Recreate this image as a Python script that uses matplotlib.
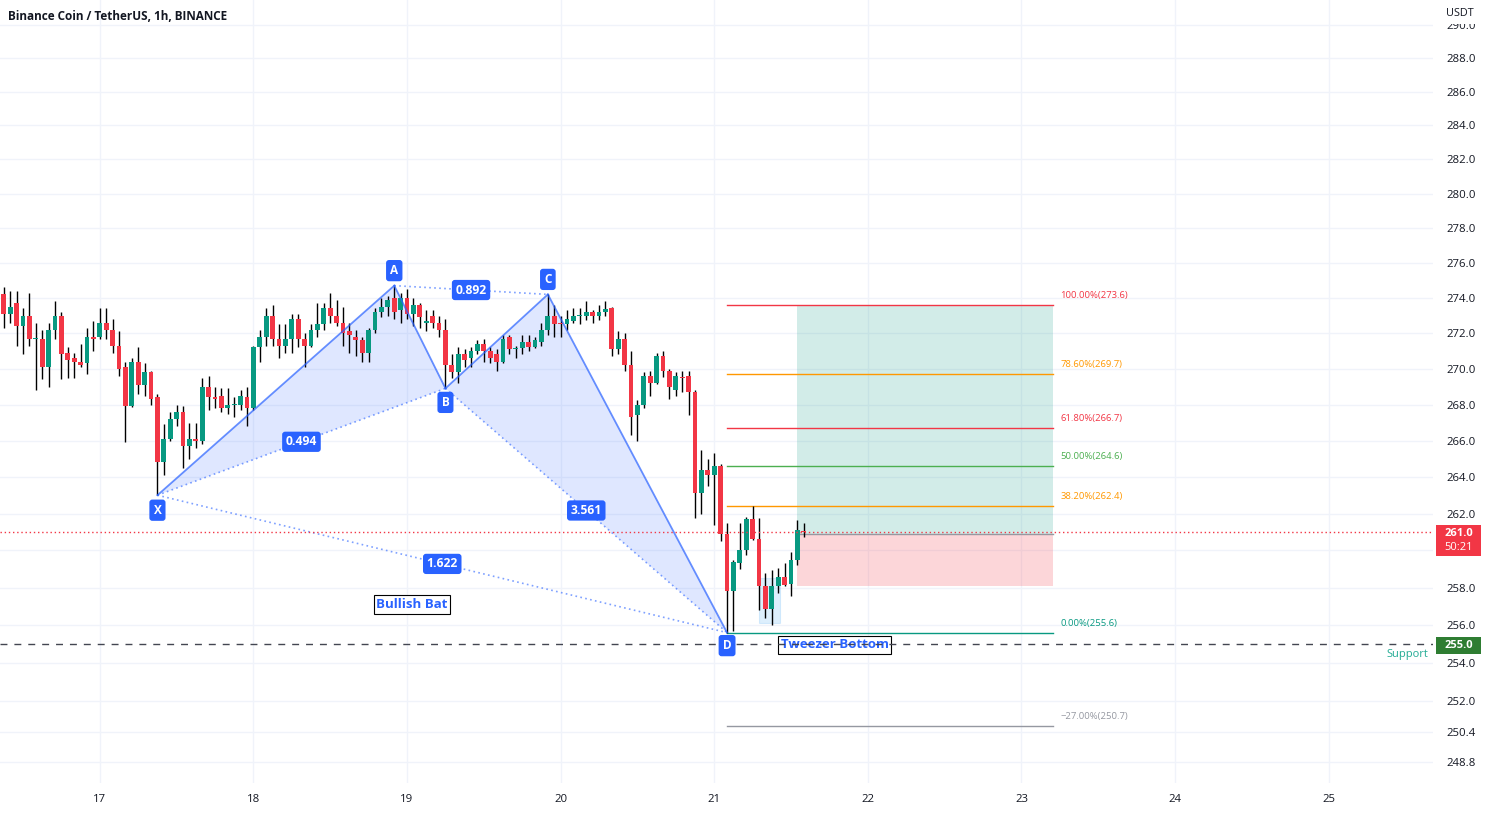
import numpy as np
import matplotlib
matplotlib.use("Agg")
import matplotlib.pyplot as plt
from matplotlib.patches import Rectangle, Polygon
from matplotlib.ticker import FixedLocator, FuncFormatter, NullLocator

# ---------------- data ----------------
first_hour = -15  # first candle: 16th 09:00 (hours relative to day 17 00:00)
opens = [274.2, 273.1, 273.7, 272.4, 273.0, 271.65, 271.7, 270.1, 272.2, 273.0,
         270.9, 270.6, 270.4, 270.3, 271.8, 271.8, 272.6, 272.2, 271.3, 270.1,
         267.9, 270.4, 269.1, 269.8, 268.4, 264.8, 266.1, 267.2, 267.6, 265.7,
         266.1, 266.0, 269.0, 268.4, 268.5, 267.8, 267.95, 268.0, 268.4, 267.8,
         271.2, 271.8, 273.0, 271.7, 271.3, 271.7, 272.8, 271.7, 271.3, 272.2,
         272.5, 273.4, 273.0, 272.6, 272.1, 271.8, 271.6, 270.9, 272.2, 273.2,
         273.5, 274.0, 273.3, 274.0, 273.1, 273.6, 272.6, 273.0, 272.6, 272.2,
         270.2, 269.8, 270.8, 270.6, 271.0, 271.4, 271.0, 270.8, 270.4, 271.8,
         271.1, 271.15, 271.5, 271.2, 271.5, 272.2, 273.0, 272.6, 272.5, 272.7,
         272.95, 273.0, 273.2, 273.0, 273.2, 273.4, 271.1, 271.7, 270.2, 267.4,
         268.0, 269.6, 269.2, 270.7, 269.9, 268.8, 269.55, 269.6, 268.7, 263.1,
         264.4, 264.1, 264.6, 260.9, 257.8, 259.3, 260.0, 261.7, 260.6, 258.1,
         256.85, 258.1, 258.55, 258.2, 259.5, 261.05]
highs = [274.6, 274.4, 274.4, 273.4, 274.3, 272.6, 272.2, 272.6, 273.8, 273.2,
         271.2, 270.9, 271.4, 272.3, 272.7, 273.4, 273.4, 272.8, 272.1, 270.4,
         270.6, 271.2, 270.3, 269.9, 268.6, 266.9, 267.6, 268.0, 267.9, 267.0,
         267.0, 269.5, 269.6, 269.0, 268.9, 268.9, 268.4, 268.8, 269.0, 271.3,
         272.2, 273.4, 273.6, 272.5, 272.5, 273.1, 273.1, 272.0, 272.5, 273.7,
         273.7, 274.3, 273.9, 273.5, 272.6, 272.2, 271.8, 272.3, 273.4, 274.0,
         274.1, 274.7, 274.3, 274.5, 274.0, 273.7, 273.3, 273.3, 273.0, 272.8,
         270.8, 271.2, 271.1, 271.2, 271.6, 271.7, 271.2, 271.1, 271.9, 271.9,
         271.3, 271.9, 271.9, 271.8, 272.6, 274.2, 273.6, 273.0, 273.3, 273.4,
         273.4, 273.8, 273.3, 273.6, 273.8, 273.5, 272.1, 272.0, 271.0, 268.25,
         269.8, 269.9, 270.9, 271.0, 270.0, 269.8, 269.9, 269.9, 268.8, 265.5,
         265.0, 265.3, 264.7, 261.5, 259.5, 261.5, 261.8, 262.4, 261.75, 258.8,
         258.95, 259.05, 259.3, 259.9, 261.65, 261.5]
lows = [272.3, 272.6, 271.3, 270.8, 271.3, 268.8, 269.4, 269.0, 271.7, 269.4,
        269.5, 269.5, 270.1, 269.7, 271.0, 271.7, 271.7, 270.9, 269.6, 265.9,
        267.85, 268.6, 268.5, 268.0, 263.0, 264.1, 266.0, 266.8, 264.5, 265.0,
        265.6, 265.8, 267.7, 267.8, 267.6, 267.5, 267.3, 267.7, 266.8, 267.7,
        270.4, 271.3, 271.3, 270.6, 270.9, 270.9, 271.2, 270.1, 271.2, 271.8,
        272.2, 272.6, 272.4, 271.3, 270.9, 270.7, 270.4, 270.4, 272.0, 272.9,
        273.0, 272.8, 272.6, 272.8, 272.4, 272.3, 272.1, 272.3, 271.8, 268.9,
        269.5, 269.2, 270.1, 270.1, 270.8, 270.4, 270.3, 269.9, 270.3, 270.8,
        270.6, 270.8, 271.0, 271.15, 271.3, 271.9, 271.8, 271.8, 272.2, 272.6,
        272.5, 272.75, 272.6, 272.75, 273.0, 270.7, 270.8, 269.9, 266.3, 266.0,
        267.8, 268.5, 269.15, 269.55, 268.3, 268.5, 268.7, 267.4, 261.75, 262.0,
        263.5, 261.4, 260.5, 255.6, 255.7, 259.0, 259.75, 260.55, 256.8, 256.4,
        256.0, 257.7, 258.1, 257.55, 259.2, 260.75]
closes = [273.1, 273.5, 272.4, 273.0, 271.7, 271.75, 270.1, 272.2, 273.0, 270.8,
          270.5, 270.4, 270.2, 271.8, 271.7, 272.6, 272.2, 271.3, 270.0, 267.9,
          270.4, 269.1, 269.8, 268.3, 264.8, 266.1, 267.2, 267.6, 265.7, 266.1,
          266.0, 269.0, 268.4, 268.3, 267.8, 268.0, 268.0, 268.5, 267.8, 271.2,
          271.8, 273.0, 271.7, 271.3, 271.7, 272.8, 271.7, 271.3, 272.2, 272.5,
          273.4, 273.0, 272.6, 272.0, 271.9, 271.6, 270.9, 272.2, 273.2, 273.5,
          273.9, 273.2, 274.0, 273.1, 273.6, 272.9, 272.7, 272.6, 272.2, 270.2,
          269.8, 270.8, 270.5, 271.0, 271.4, 271.0, 270.6, 270.4, 271.7, 271.1,
          271.15, 271.5, 271.2, 271.6, 272.2, 273.0, 272.5, 272.5, 272.8, 273.0,
          273.05, 273.2, 273.0, 273.2, 273.35, 271.1, 271.7, 270.2, 267.3, 268.0,
          269.6, 269.2, 270.7, 269.9, 269.0, 269.6, 269.5, 268.7, 263.1, 264.4,
          264.1, 264.6, 260.9, 257.8, 259.4, 260.0, 261.7, 260.6, 258.1, 256.85,
          258.1, 258.55, 258.15, 259.5, 261.1, 261.0]

day_ticks = [0, 24, 48, 72, 96, 120, 144, 168, 192]
day_labels = ["17", "18", "19", "20", "21", "22", "23", "24", "25"]
price_ticks = [290, 288, 286, 284, 282, 280, 278, 276, 274, 272, 270, 268, 266,
               264, 262, 260, 258, 256, 254, 252, 250.4, 248.8]
hidden_tick_labels = [260]  # covered by the last-price tag

pattern_names = ["X", "A", "B", "C", "D"]
pattern_hours = [9, 46, 54, 70, 98]
pattern_prices = [263.0, 274.7, 268.9, 274.2, 255.6]
ratio_texts = ["0.494", "0.892", "3.561", "1.622"]
ratio_pairs = [("X", "B"), ("A", "C"), ("B", "D"), ("X", "D")]

fib_labels = ["100.00%", "78.60%", "61.80%", "50.00%", "38.20%", "0.00%", "\u221227.00%"]
fib_prices = [273.6, 269.7, 266.7, 264.6, 262.4, 255.6, 250.7]
fib_colors = ["#f23645", "#ff9800", "#f23645", "#4caf50", "#ff9800", "#089981", "#9598a1"]
fib_start_hour, fib_end_hour = 98, 149

pos_start_hour, pos_end_hour = 109, 149
pos_entry, pos_target, pos_stop = 260.9, 273.6, 258.1

tweezer_hours = (103.0, 106.2)
tweezer_prices = (256.1, 258.5)

last_price = 261.0
countdown = "50:21"
support_price = 255.0

# ---------------- figure ----------------
W, H = 1491, 813
plot_right, plot_bottom = 1433, 783
plt.rcParams["font.family"] = ["Open Sans", "DejaVu Sans"]
fig = plt.figure(figsize=(W / 100, H / 100), dpi=100)
fig.patch.set_facecolor("white")
ax = fig.add_axes([0, (H - plot_bottom) / H, plot_right / W, plot_bottom / H])

hours = np.arange(len(opens)) + first_hour
o = np.array(opens); c = np.array(closes); hi = np.array(highs); lo = np.array(lows)
up = c >= o
GREEN, RED = "#089981", "#f23645"
colors = np.where(up, GREEN, RED)

ax.set_yscale("log")
ax.set_ylim(247.74, 291.49)
ax.set_xlim(-15.6, 208.3)

# grid
for d in day_ticks:
    ax.axvline(d, color="#f0f3fa", lw=1, zorder=0)
for p in price_ticks:
    ax.axhline(p, color="#f0f3fa", lw=1, zorder=0)

# harmonic pattern fills
pt = dict(zip(pattern_names, zip(pattern_hours, pattern_prices)))
PBLUE = "#2962ff"
for tri in (("X", "A", "B"), ("B", "C", "D")):
    ax.add_patch(Polygon([pt[k] for k in tri], closed=True, fc=PBLUE, alpha=0.15,
                         ec="none", zorder=1))

# fib levels
for lab, p, col in zip(fib_labels, fib_prices, fib_colors):
    ax.plot([fib_start_hour, fib_end_hour], [p, p], color=col, lw=1, zorder=2)
    ax.annotate(f"{lab}({p:.1f})", xy=(fib_end_hour, p), xytext=(7, 5),
                textcoords="offset pixels", ha="left", va="bottom", fontsize=6.8,
                color=col, zorder=2)

# long position
ax.add_patch(Rectangle((pos_start_hour, pos_entry), pos_end_hour - pos_start_hour,
                       pos_target - pos_entry, fc=GREEN, alpha=0.18, ec="none", zorder=1))
ax.add_patch(Rectangle((pos_start_hour, pos_stop), pos_end_hour - pos_start_hour,
                       pos_entry - pos_stop, fc=RED, alpha=0.2, ec="none", zorder=1))
ax.plot([pos_start_hour, pos_end_hour], [pos_entry, pos_entry], color="#9598a1", lw=1, zorder=2)

# tweezer highlight
ax.add_patch(Rectangle((tweezer_hours[0], tweezer_prices[0]), tweezer_hours[1] - tweezer_hours[0],
                       tweezer_prices[1] - tweezer_prices[0], fc="#2196f3", alpha=0.15,
                       ec="#2196f3", lw=0.8, zorder=1.5))

# candles
ax.vlines(hours, lo, hi, color="#000000", lw=1, zorder=3)
heights = np.maximum(np.abs(c - o), 0.06)
bottoms = np.minimum(o, c)
ax.bar(hours, heights, bottom=bottoms, width=0.76, color=colors, zorder=4, linewidth=0)

# pattern lines
for a, b in (("X", "A"), ("A", "B"), ("B", "C"), ("C", "D")):
    ax.plot([pt[a][0], pt[b][0]], [pt[a][1], pt[b][1]], color=PBLUE, alpha=0.7, lw=1.3, zorder=5)
for a, b in ratio_pairs:
    ax.plot([pt[a][0], pt[b][0]], [pt[a][1], pt[b][1]], color=PBLUE, alpha=0.6, lw=1.2,
            ls=(0, (1, 2)), zorder=5)

# point labels
offsets = {"X": -15, "A": 15, "B": -14, "C": 15, "D": -13}
for n in pattern_names:
    ax.annotate(n, xy=pt[n], xytext=(0, offsets[n]), textcoords="offset pixels",
                ha="center", va="center", color="white", fontsize=8.5, fontweight="bold",
                bbox=dict(boxstyle="round,pad=0.35,rounding_size=0.25", fc=PBLUE, ec="none"),
                zorder=7)

# ratio labels at midpoints
for txt, (a, b) in zip(ratio_texts, ratio_pairs):
    mx = (pt[a][0] + pt[b][0]) / 2
    my = np.sqrt(pt[a][1] * pt[b][1])
    ax.text(mx, my, txt, ha="center", va="center", color="white", fontsize=8.7,
            fontweight="bold", zorder=7,
            bbox=dict(boxstyle="round,pad=0.3,rounding_size=0.25", fc=PBLUE, ec="none"))

# text notes
ax.text(48.75, 257.1, "Bullish Bat", ha="center", va="center", color=PBLUE, fontsize=9.5,
        fontweight="bold", zorder=7,
        bbox=dict(boxstyle="square,pad=0.2", fc="white", ec="black", lw=0.8))
ax.text(114.8, 254.95, "Tweezer Bottom", ha="center", va="center", color=PBLUE, fontsize=9.5,
        fontweight="bold", zorder=6,
        bbox=dict(boxstyle="square,pad=0.2", fc="white", ec="black", lw=0.8))

# price line and support
ax.axhline(last_price, color=RED, lw=1, ls=(0, (1, 2)), zorder=6)
ax.axhline(support_price, color="#434651", lw=1, ls=(0, (5, 5)), zorder=6.5)

# axes styling
for s in ax.spines.values():
    s.set_visible(False)
ax.yaxis.tick_right()
ax.yaxis.set_major_locator(FixedLocator(price_ticks))
ax.yaxis.set_minor_locator(NullLocator())
ax.yaxis.set_major_formatter(FuncFormatter(
    lambda v, _: "" if any(abs(v - h) < 1e-6 for h in hidden_tick_labels) else f"{v:.1f}"))
ax.yaxis.set_minor_formatter(FuncFormatter(lambda v, _: ""))
ax.tick_params(axis="y", length=0, pad=10, labelsize=8.2, labelcolor="#131722")
ax.set_xticks(day_ticks)
ax.set_xticklabels(day_labels)
ax.tick_params(axis="x", length=0, pad=8, labelsize=8.2, labelcolor="#131722")
for lab in ax.get_yticklabels():
    lab.set_horizontalalignment("left")

# figure-level overlays (pixel helpers)
def fx(x):
    return x / W

def fy(y):
    return 1 - y / H

fig.text(fx(8), fy(16), "Binance Coin / TetherUS, 1h, BINANCE", ha="left", va="center",
         fontsize=8.5, fontweight="bold", color="#131722")
fig.add_artist(Rectangle((fx(1434), fy(24)), 57 / W, 24 / H, transform=fig.transFigure,
                         fc="white", ec="none", zorder=5))
fig.text(fx(1446), fy(13), "USDT", ha="left", va="center", fontsize=7.8, color="#131722",
         zorder=6)

fig.add_artist(Rectangle((fx(1436), fy(556)), 45 / W, 31 / H, transform=fig.transFigure,
                         fc=RED, ec="none", zorder=5))
fig.text(fx(1458.5), fy(533), f"{last_price:.1f}", ha="center", va="center", fontsize=8,
         fontweight="bold", color="white", zorder=6)
fig.text(fx(1458.5), fy(548), countdown, ha="center", va="center", fontsize=8,
         color="white", zorder=6)

fig.add_artist(Rectangle((fx(1436), fy(654)), 45 / W, 17 / H, transform=fig.transFigure,
                         fc="#2e7d32", ec="none", zorder=5))
fig.text(fx(1458.5), fy(645.5), f"{support_price:.1f}", ha="center", va="center", fontsize=8,
         fontweight="bold", color="white", zorder=6)
fig.text(fx(1428), fy(655), "Support", ha="right", va="center", fontsize=8,
         color="#22ab94", zorder=6)

fig.savefig("out.png", dpi=100, facecolor="white")
